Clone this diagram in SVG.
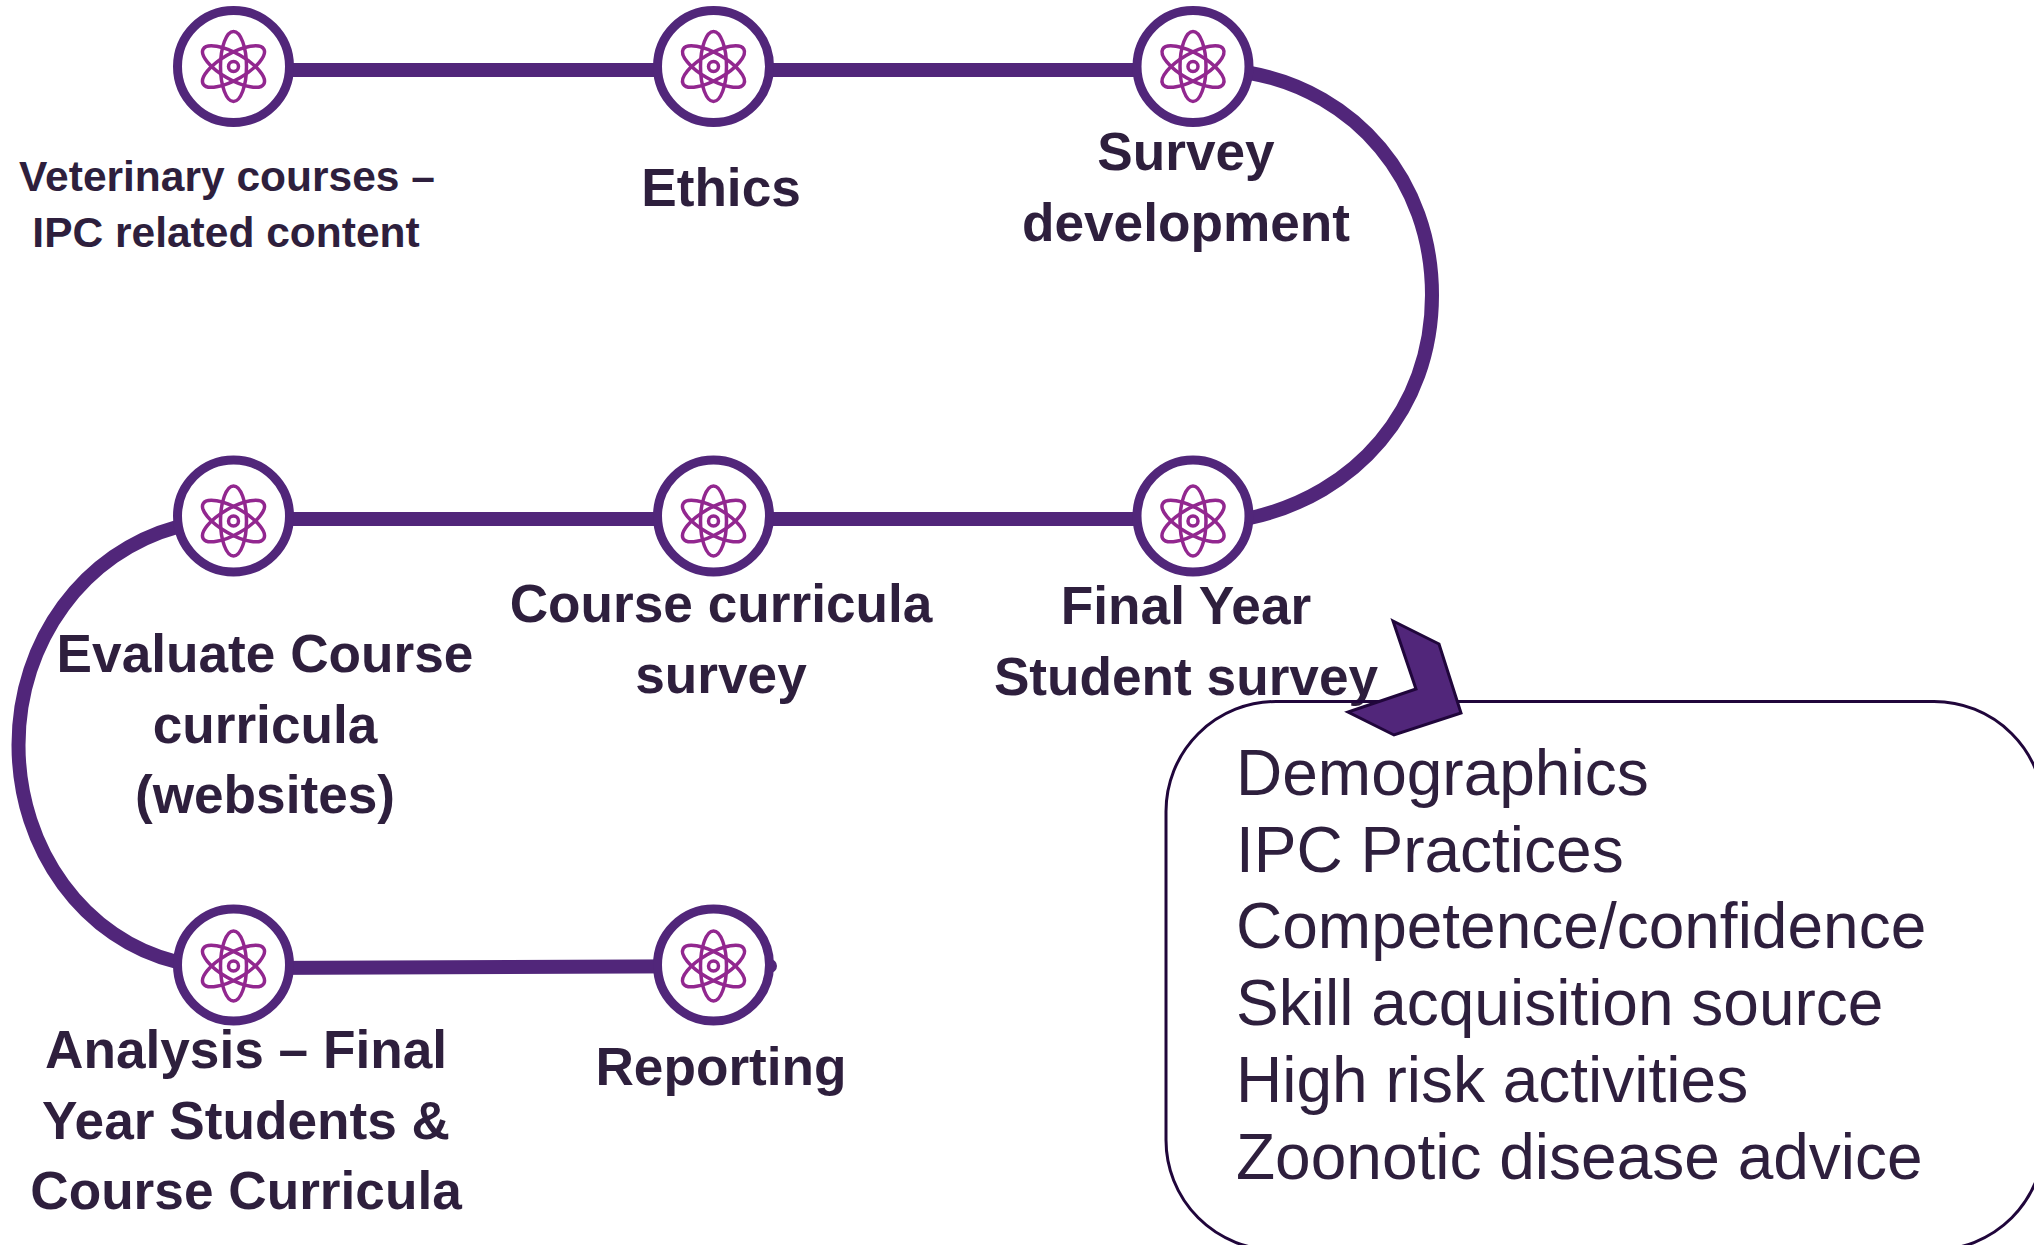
<svg xmlns="http://www.w3.org/2000/svg" width="2034" height="1245" viewBox="0 0 2034 1245">
<style>
.ring{fill:#fff;stroke:#51267a;stroke-width:9}
.o{fill:none;stroke:#92278f;stroke-width:3.5}
.c{fill:none;stroke:#51267a;stroke-width:14}
.b{font-family:"Liberation Sans",Arial,sans-serif;font-weight:700;fill:#2e1f3d;text-anchor:middle}
.s{font-size:42.500px}.l{font-size:53.200px}
.r{font-family:"Liberation Sans",Arial,sans-serif;font-size:64px;fill:#2e1f3d}
</style>
<defs>
<g id="atom">
<ellipse class="o" rx="13" ry="35"/>
<ellipse class="o" rx="13" ry="35" transform="rotate(60)"/>
<ellipse class="o" rx="13" ry="35" transform="rotate(-60)"/>
<circle class="o" r="5"/>
</g>
</defs>
<g id="connectors">
<path class="c" d="M233 70H1193"/>
<path class="c" d="M1250 73C1355 92 1432 180 1432 295C1432 410 1355 495 1250 518"/>
<path class="c" d="M233 519H1193"/>
<path class="c" d="M177 527C85 552 18.500 640 18.500 745C18.500 850 85 940 177 962"/>
<path class="c" stroke-linecap="round" d="M233 968L770 966"/>
</g>
<g id="n1"><circle class="ring" cx="233.500" cy="66.500" r="56"/><use href="#atom" x="233.500" y="66.500"/></g>
<g id="n2"><circle class="ring" cx="713.500" cy="66.500" r="56"/><use href="#atom" x="713.500" y="66.500"/></g>
<g id="n3"><circle class="ring" cx="1193" cy="66.500" r="56"/><use href="#atom" x="1193" y="66.500"/></g>
<g id="n4"><circle class="ring" cx="1193" cy="516" r="56"/><use href="#atom" x="1193" y="521"/></g>
<g id="n5"><circle class="ring" cx="713.500" cy="516" r="56"/><use href="#atom" x="713.500" y="521"/></g>
<g id="n6"><circle class="ring" cx="233.500" cy="516" r="56"/><use href="#atom" x="233.500" y="521"/></g>
<g id="n7"><circle class="ring" cx="233.500" cy="965" r="56"/><use href="#atom" x="233.500" y="966"/></g>
<g id="n8"><circle class="ring" cx="713.500" cy="965" r="56"/><use href="#atom" x="713.500" y="966"/></g>
<g id="labels">
<text class="b s" x="227" y="191">Veterinary courses –</text>
<text class="b s" x="226" y="247">IPC related content</text>
<text class="b l" x="721" y="206">Ethics</text>
<text class="b l" x="1186" y="170">Survey</text>
<text class="b l" x="1186" y="241">development</text>
<text class="b l" x="1186" y="624">Final Year</text>
<text class="b l" x="1186" y="695">Student survey</text>
<text class="b l" x="721" y="622">Course curricula</text>
<text class="b l" x="721" y="693">survey</text>
<text class="b l" x="265" y="672">Evaluate Course</text>
<text class="b l" x="265" y="743">curricula</text>
<text class="b l" x="265" y="813">(websites)</text>
<text class="b l" x="246" y="1068">Analysis – Final</text>
<text class="b l" x="246" y="1139">Year Students &amp;</text>
<text class="b l" x="246" y="1209">Course Curricula</text>
<text class="b l" x="721" y="1085">Reporting</text>
</g>
<g id="box">
<rect x="1166" y="701.500" width="878" height="548.500" rx="110" fill="none" stroke="#20063b" stroke-width="3"/>
<text class="r" x="1236" y="794.500">Demographics</text>
<text class="r" x="1236" y="872">IPC Practices</text>
<text class="r" x="1236" y="948">Competence/confidence</text>
<text class="r" x="1236" y="1025">Skill acquisition source</text>
<text class="r" x="1236" y="1102">High risk activities</text>
<text class="r" x="1236" y="1179">Zoonotic disease advice</text>
</g>
<g id="arrow"><polygon points="1393,621 1439,644 1461,713 1394,735 1348,712 1416,689" fill="#51267a" stroke="#20063b" stroke-width="3"/></g>
</svg>
